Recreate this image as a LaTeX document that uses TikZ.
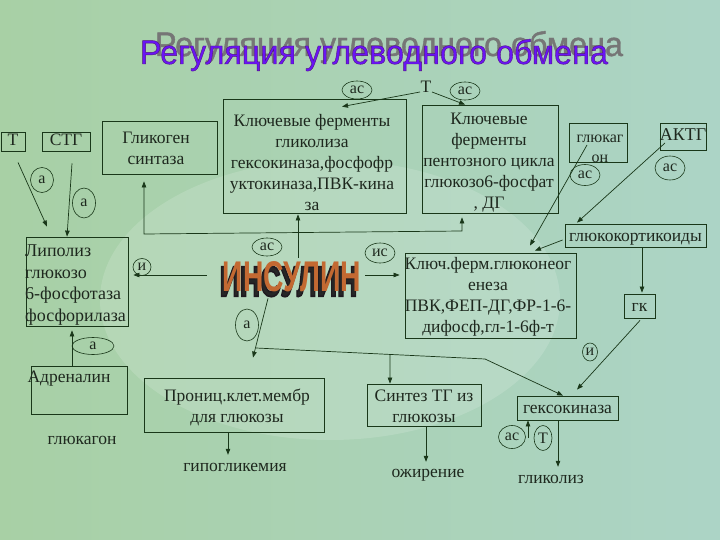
\documentclass[tikz,border=0pt]{standalone}
\usepackage{fontspec}
\setmainfont{Liberation Serif}
\newfontfamily\sansf{Liberation Sans}
\newfontfamily\sansfb[FakeBold=1.2]{Liberation Sans}
\newfontfamily\sansfx[FakeBold=4]{Liberation Sans}
\usetikzlibrary{shapes.geometric,arrows.meta,calc}
\definecolor{ink}{RGB}{25,55,25}
\definecolor{txt}{RGB}{30,40,30}
\definecolor{bgL}{RGB}{168,208,165}
\definecolor{bgM}{RGB}{205,226,190}
\definecolor{bgR}{RGB}{172,212,198}
\definecolor{titlec}{RGB}{105,20,245}
\definecolor{shadc}{RGB}{118,118,118}
\definecolor{insc}{RGB}{195,105,50}
\newcommand{\insw}{\resizebox{138pt}{30pt}{\sansf\bfseries ИНСУЛИН}}
\newcommand{\insx}{\resizebox{138pt}{30pt}{\sansfx\bfseries ИНСУЛИН}}
\newcommand{\titw}{\resizebox{468pt}{25pt}{\sansfb\fontsize{30}{30}\selectfont Регуляция углеводного обмена}}
\begin{document}
\begin{tikzpicture}[x=1pt,y=-1pt,
  box/.style={draw=ink,line width=0.8pt,inner sep=0pt},
  txtn/.style={inner sep=0pt,text=txt,font=\fontsize{17.5}{21}\selectfont,align=center},
  plain/.style={inner sep=0pt,text=txt,font=\fontsize{17.5}{21}\selectfont,text height=12pt,text depth=4pt},
  lab/.style={ellipse,draw=ink,line width=0.6pt,inner sep=0pt,text=txt,font=\fontsize{16}{16}\selectfont},
  ln/.style={draw=ink,line width=0.7pt},
  arr/.style={ln,-{Triangle[length=6pt,width=4.5pt]}},
  dbl/.style={ln,{Triangle[length=6pt,width=4.5pt]}-{Triangle[length=6pt,width=4.5pt]}}]
\useasboundingbox (0,0) rectangle (720,540);
\shade[left color=bgL,middle color=bgM,right color=bgR] (0,0) rectangle (720,540);
\fill[white,opacity=0.15] (330,300) ellipse (230 and 140);

% title
\node[text=shadc,inner sep=0pt,anchor=base] (titsh) at (389,56) {\titw};
\node[text=titlec,inner sep=0pt,anchor=base] (tit) at (374,64) {\color{titlec}\special{pdf:code 0.33 0.08 0.5 RG}\titw};

% boxes
\node[box,minimum width=24,minimum height=19] (Tb) at (13,141.5) {};
\node[plain] (Tbt) at (13,141.5) {Т};
\node[box,minimum width=48,minimum height=19] (stg) at (66,141.5) {};
\node[plain] (stgt) at (66,141.5) {СТГ};
\node[box,minimum width=115,minimum height=53] (gs) at (159.5,147.5) {};
\node[txtn] (gst) at (156,148) {Гликоген\\синтаза};
\node[box,minimum width=183,minimum height=114] (glyc) at (314.5,156) {};
\node[txtn] (glyct) at (312,163) {Ключевые ферменты\\гликолиза\\гексокиназа,фосфофр\\уктокиназа,ПВК-кина\\за};
\node[box,minimum width=136,minimum height=108] (pent) at (490,159) {};
\node[txtn] (pentt) at (489,163) {Ключевые\\ферменты\\пентозного цикла\\глюкозо6-фосфат\\, ДГ};
\node[box,minimum width=58,minimum height=39] (gcg) at (598,142.5) {};
\node[txtn,font=\fontsize{16}{20}\selectfont] (gcgt) at (600,149) {глюкаг\\он};
\node[box,minimum width=46,minimum height=27] (acth) at (683,136.5) {};
\node[plain,font=\fontsize{18}{21}\selectfont] (actht) at (683,137) {АКТГ};
\node[box,minimum width=141,minimum height=23] (gcort) at (635.5,235.5) {};
\node[plain] (gcortt) at (635.5,237) {глюкокортикоиды};
\node[box,minimum width=31,minimum height=24] (gk) at (639.5,306) {};
\node[plain] (gkt) at (639.5,307) {гк};
\node[box,minimum width=102,minimum height=89] (lip) at (77,281.5) {};
\node[txtn,align=left,anchor=west,font=\fontsize{18}{21.5}\selectfont] (lipt) at (25,285) {Липолиз\\глюкозо\\6-фосфотаза\\фосфорилаза};
\node[box,minimum width=96,minimum height=48] (adr) at (79,390) {};
\node[plain] (adrt) at (69,378) {Адреналин};
\node[box,minimum width=171,minimum height=85] (gng) at (490.5,295.5) {};
\node[txtn] (gngt) at (488,297) {Ключ.ферм.глюконеог\\енеза\\ПВК,ФЕП-ДГ,ФР-1-6-\\дифосф,гл-1-6ф-т};
\node[box,minimum width=180,minimum height=54] (perm) at (234,405) {};
\node[txtn] (permt) at (237,407) {Прониц.клет.мембр\\для глюкозы};
\node[box,minimum width=114,minimum height=42] (tg) at (424,405) {};
\node[txtn] (tgt) at (424,406) {Синтез ТГ из\\глюкозы};
\node[box,minimum width=101,minimum height=24] (hexo) at (567.5,408) {};
\node[plain] (hexot) at (567.5,409) {гексокиназа};

% free texts
\node[plain] (Tlab) at (426,89) {Т};
\node[plain] (glcgn) at (82,440) {глюкагон};
\node[plain] (hypo) at (235,467) {гипогликемия};
\node[plain] (ozh) at (428,473) {ожирение};
\node[plain] (glz) at (551,479) {гликолиз};

% insulin word art: dark extrusion + orange face
\node[inner sep=0pt,text=black!85] (insx) at (288.5,281.5) {\color{black!85}\special{pdf:code 0.12 0.1 0.12 RG}\insx};
\node[inner sep=0pt,text=insc] (ins) at (292,277) {\insw};

% label ellipses
\node[lab,minimum width=23,minimum height=25] (a1) at (42,180) {а};
\node[lab,minimum width=23,minimum height=30] (a2) at (84,203) {а};
\node[lab,minimum width=30,minimum height=18] (ac1) at (357,90) {ас};
\node[lab,minimum width=30,minimum height=18] (ac2) at (465,91) {ас};
\node[lab,minimum width=30,minimum height=21] (ac3) at (585,175) {ас};
\node[lab,minimum width=30,minimum height=24] (ac4) at (670,168) {ас};
\node[lab,minimum width=30,minimum height=18] (ac5) at (267,247) {ас};
\node[lab,minimum width=30,minimum height=20] (ic) at (380,253) {ис};
\node[lab,minimum width=18,minimum height=17] (i1) at (142,267) {и};
\node[lab,minimum width=42,minimum height=17] (a3) at (93,346) {а};
\node[lab,minimum width=23,minimum height=32] (a4) at (247,325) {а};
\node[lab,minimum width=15,minimum height=18] (i2) at (590,352) {и};
\node[lab,minimum width=27,minimum height=23] (ac6) at (512,437) {ас};
\node[lab,minimum width=18,minimum height=25] (T2) at (543,438) {Т};

% connectors
\draw[arr] ([shift={(5,11)}]Tb.south) -- ([shift={(-30,-10)}]lip.north);
\draw[arr] ([shift={(6,12)}]stg.south) -- ([shift={(-10,0)}]lip.north);
\draw[dbl] ([shift={(-15.5,7)}]gs.south) -- ([shift={(-15.5,7)}]gs.south |- 0,227) -- ([shift={(-28,4)}]pent.south |- 0,227) -- ([shift={(-28,4)}]pent.south);
\draw[arr] ([shift={(6,-4)}]ins.north) -- ([shift={(-16.5,1)}]glyc.south);
\draw[arr] ([shift={(-6,3)}]Tlab.center) -- ([shift={(27.5,8)}]glyc.north);
\draw[arr] ([shift={(6,3)}]Tlab.center) -- ([shift={(-25,0)}]pent.north);
\draw[arr] ([shift={(-11,2.5)}]gcg.center) -- ([shift={(39.5,-7)}]gng.north);
\draw[arr] ([shift={(-18,6.5)}]acth.center) -- ([shift={(-58.5,-1)}]gcort.north);
\draw[arr] ([shift={(-2,4.5)}]gcort.west) -- ([shift={(44.5,-2)}]gng.north);
\draw[arr] ([shift={(6.5,0)}]gcort.south) -- ([shift={(2.5,-1)}]gk.north);
\draw[arr] ([shift={(0.5,2)}]gk.south) -- ([shift={(9.5,-6)}]hexo.north);
\draw[arr] ([shift={(-9.5,0)}]hexo.south) -- ([shift={(7,-4)}]glz.north);
\coordinate (hexin) at (528,438);
\draw[arr] (hexin) -- ([shift={(-39.5,0)}]hexo.south);
\draw[arr] ([shift={(2,0)}]tg.south) -- ([shift={(-2,-3)}]ozh.north);
\draw[arr] ([shift={(-6,0)}]perm.south) -- ([shift={(-7,-4)}]hypo.north);
\draw[arr] ([shift={(-24,6)}]ins.south) -- ([shift={(19,-20)}]perm.north);
\coordinate (br) at (256,348);
\coordinate (bend) at (485,359);
\draw[arr] (br) -- (bend) -- ([shift={(-4.5,0)}]hexo.north);
\draw[arr] ($(br)!0.585!(bend)$) -- ([shift={(-34,0)}]tg.north);
\draw[arr] ([shift={(-16,-2)}]ins.west) -- ([shift={(5,-6.5)}]lip.east);
\draw[arr] ([shift={(4,-2)}]ins.east) -- ([shift={(-5,-20.5)}]gng.west);
\draw[arr] ([shift={(-7,0)}]adr.north) -- ([shift={(-5,4)}]lip.south);
\end{tikzpicture}
\end{document}
